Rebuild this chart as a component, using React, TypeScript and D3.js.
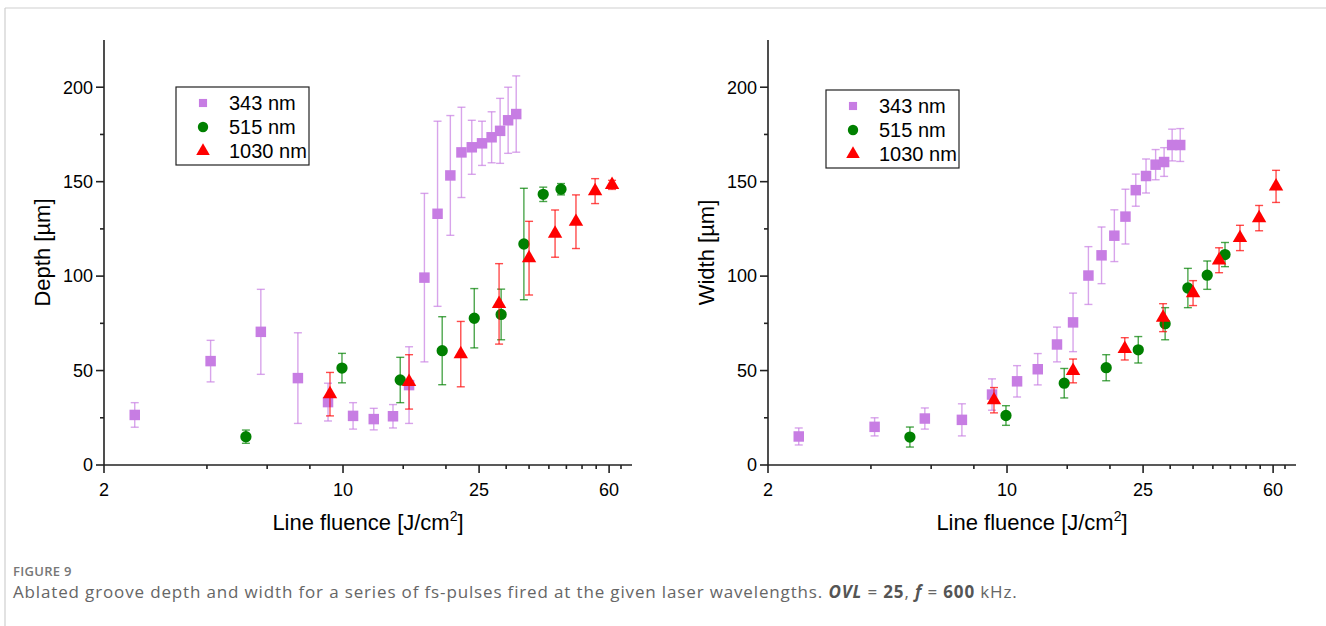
import React from 'react';
import * as d3 from 'd3';

// ---- data ----
const fluence343 = [2.46, 4.1, 5.75, 7.38, 9.04, 10.7, 12.3, 14.0, 15.6, 17.3, 18.9, 20.6, 22.2, 23.8, 25.5, 27.2, 28.8, 30.4, 32.1];
const depth343 = [26.5, 55, 70.5, 46, 33.3, 26, 24.3, 25.8, 42.3, 99.2, 133, 153.3, 165.5, 168.2, 170.3, 173.5, 176.9, 182.5, 185.8];
const depth343Err = [6.5, 11, 22.5, 24, 10, 7, 5.7, 6.2, 20.3, 44.6, 49, 31.7, 23.9, 14.3, 11.7, 13.5, 17.2, 17.5, 20.2];
const width343 = [15.1, 20.2, 24.6, 23.9, 37.3, 44.3, 50.7, 63.8, 75.5, 100.3, 111, 121.4, 131.5, 145.5, 153, 159, 160.4, 169.4, 169.4];
const width343Err = [4.5, 4.8, 5.6, 8.5, 8.3, 8.3, 8.3, 9.2, 15.5, 15.3, 15, 13.7, 14.5, 8.5, 9, 8, 7.6, 8.4, 8.7];

const fluence515 = [5.2, 9.93, 14.7, 19.5, 24.2, 29.0, 33.8, 38.5, 43.4];
const depth515 = [15, 51.3, 45, 60.5, 77.7, 79.7, 117, 143.3, 146];
const depth515Err = [3.5, 7.8, 12, 18, 15.7, 13.4, 29.5, 3.8, 3];
const width515 = [14.8, 26.2, 43.3, 51.5, 61, 74.8, 93.7, 100.5, 111.4];
const width515Err = [5.3, 5.2, 7.8, 6.9, 7, 8.5, 10.4, 7.5, 6.4];

const fluence1030 = [9.16, 15.6, 22.1, 28.6, 35.0, 41.7, 48.0, 54.6, 61.2];
const depth1030 = [37.5, 44, 58.7, 85.3, 109.5, 122.5, 128.8, 145, 148.3];
const depth1030Err = [11.5, 14.4, 17.3, 21.3, 19.5, 12.5, 14.2, 6.6, 2.4];
const width1030 = [34.3, 49.8, 61.5, 78, 91, 108.4, 120.2, 130.7, 147.5];
const width1030Err = [6.7, 6.3, 5.9, 7.4, 6.6, 6.6, 6.7, 6.7, 8.5];

const seriesNames = ['343 nm', '515 nm', '1030 nm'];
const seriesColors = ['#C77DE3', '#008000', '#FF0000'];

const yMajorTicks = [0, 50, 100, 150, 200];
const yMinorTicks = [25, 75, 125, 175];
const xMajorTicks = [2, 10, 25, 60];
const xMinorTicks = [4, 6, 8, 15, 20, 30, 35, 40, 45, 50, 55, 65];

const FONT = '"Liberation Sans", Arial, sans-serif';
const CAPFONT = '"Open Sans", Lato, sans-serif';

type Series = { x: number[]; y: number[]; e: number[]; shape: d3.SymbolType; size: number; legendSize: number; color: string; name: string };

function Panel({ left, yLabel, series, legend }: { left: number; yLabel: string; series: Series[]; legend: { x: number; y: number } }) {
  const x = d3.scaleLog().domain([2, 70]).range([left, left + 528]);
  const y = d3.scaleLinear().domain([0, 225]).range([465, 40]);
  const [r0, r1] = x.range();
  const sym = (t: d3.SymbolType, s: number) => d3.symbol().type(t).size(s)() as string;
  return (
    <g>
      {series.map((s, si) => (
        <g key={si}>
          {s.x.map((xv, i) => {
            const cx = x(xv);
            const yt = y(s.y[i] + s.e[i]);
            const yb = y(s.y[i] - s.e[i]);
            return (
              <g key={i} stroke={s.color} strokeWidth={1.4} strokeOpacity={0.7}>
                <line x1={cx} x2={cx} y1={yt} y2={yb} />
                <line x1={cx - 4} x2={cx + 4} y1={yt} y2={yt} />
                <line x1={cx - 4} x2={cx + 4} y1={yb} y2={yb} />
              </g>
            );
          })}
          {s.x.map((xv, i) => (
            <path key={'m' + i} d={sym(s.shape, s.size)} transform={`translate(${x(xv)},${y(s.y[i])})`} fill={s.color} />
          ))}
        </g>
      ))}
      <g stroke="#222" strokeWidth={1.6}>
        <line x1={r0} x2={r0} y1={y(225)} y2={465} />
        <line x1={r0} x2={r1} y1={465} y2={465} />
        {yMajorTicks.map(t => <line key={'ym' + t} x1={r0 - 8} x2={r0} y1={y(t)} y2={y(t)} />)}
        {yMinorTicks.map(t => <line key={'yn' + t} x1={r0 - 4} x2={r0} y1={y(t)} y2={y(t)} />)}
        {xMajorTicks.map(t => <line key={'xm' + t} x1={x(t)} x2={x(t)} y1={465} y2={473} />)}
        {xMinorTicks.map(t => <line key={'xn' + t} x1={x(t)} x2={x(t)} y1={465} y2={469} />)}
      </g>
      <g fontFamily={FONT} fontSize={18} fill="#000">
        {yMajorTicks.map(t => (
          <text key={'yl' + t} x={r0 - 11} y={y(t)} dy="0.35em" textAnchor="end">{t}</text>
        ))}
        {xMajorTicks.map(t => (
          <text key={'xl' + t} x={x(t)} y={496} textAnchor="middle">{t}</text>
        ))}
      </g>
      <text fontFamily={FONT} fontSize={22} x={(r0 + r1) / 2} y={530} textAnchor="middle">
        Line fluence [J/cm<tspan fontSize={14} dy={-9}>2</tspan><tspan dy={9}>]</tspan>
      </text>
      <text fontFamily={FONT} fontSize={22} transform={`translate(${r0 - 54},${y(112.5)}) rotate(-90)`} textAnchor="middle">{yLabel}</text>
      <g transform={`translate(${legend.x},${legend.y})`}>
        <rect x={0} y={0} width={133} height={78} fill="#fff" stroke="#222" strokeWidth={1.2} />
        {series.map((s, i) => (
          <g key={'lg' + i} transform={`translate(0,${16 + i * 24})`}>
            <path d={sym(s.shape, s.legendSize)} transform="translate(27,0)" fill={s.color} />
            <text x={53} y={0} dy="0.36em" fontFamily={FONT} fontSize={20}>{s.name}</text>
          </g>
        ))}
      </g>
    </g>
  );
}

export default function App() {
  const mk = (xs: number[], ys: number[], es: number[], i: number): Series => ({
    x: xs, y: ys, e: es,
    shape: [d3.symbolSquare, d3.symbolCircle, d3.symbolTriangle][i],
    size: [110, 100, 90][i],
    legendSize: [66, 85, 80][i],
    color: seriesColors[i],
    name: seriesNames[i],
  });
  const depthSeries = [
    mk(fluence343, depth343, depth343Err, 0),
    mk(fluence515, depth515, depth515Err, 1),
    mk(fluence1030, depth1030, depth1030Err, 2),
  ];
  const widthSeries = [
    mk(fluence343, width343, width343Err, 0),
    mk(fluence515, width515, width515Err, 1),
    mk(fluence1030, width1030, width1030Err, 2),
  ];
  return (
    <svg width={1326} height={626} style={{ position: 'absolute', left: 0, top: 0, background: '#fff' }}>
      <rect x={0} y={0} width={1326} height={626} fill="#fff" />
      <line x1={5} x2={1326} y1={8} y2={8} stroke="#cfcfcf" strokeWidth={1.2} />
      <line x1={5} x2={5} y1={8} y2={626} stroke="#cfcfcf" strokeWidth={1.2} />
      <Panel left={104} yLabel="Depth [µm]" series={depthSeries} legend={{ x: 176, y: 87 }} />
      <Panel left={768} yLabel="Width [µm]" series={widthSeries} legend={{ x: 826, y: 90 }} />
      <text x={13} y={576} fontFamily={CAPFONT} fontSize={13} fontWeight={600} fill="#777" letterSpacing={0.3}>FIGURE 9</text>
      <text x={13} y={598} fontFamily={CAPFONT} fontSize={17} fill="#666" letterSpacing={0.85}>
        Ablated groove depth and width for a series of fs-pulses fired at the given laser wavelengths.{' '}
        <tspan fontWeight={700} fontStyle="italic" fill="#555">OVL</tspan> = <tspan fontWeight={700} fill="#555">25</tspan>,{' '}
        <tspan fontWeight={700} fontStyle="italic" fill="#555">f</tspan> = <tspan fontWeight={700} fill="#555">600</tspan> kHz.
      </text>
    </svg>
  );
}
